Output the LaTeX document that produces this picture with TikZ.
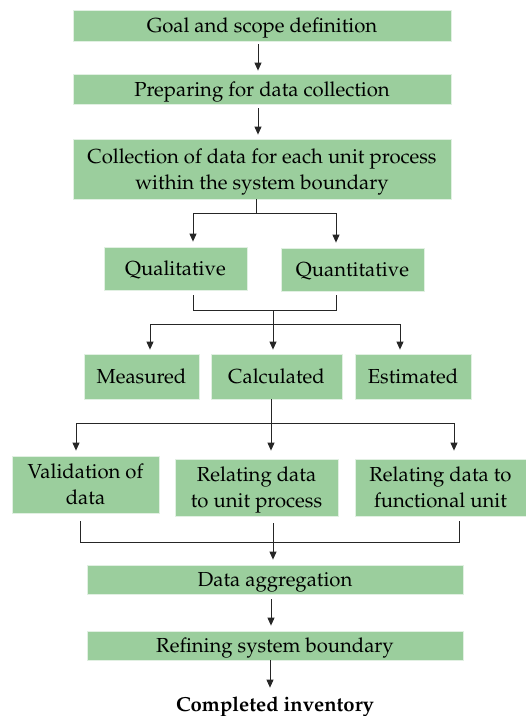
\documentclass[tikz,border=0pt]{standalone}
\usepackage[T1]{fontenc}
\usepackage{mathpazo}
\usetikzlibrary{arrows.meta}
\definecolor{boxgreen}{RGB}{155,206,157}
\tikzset{
  box/.style={fill=boxgreen, draw=white!70!boxgreen, line width=0.8pt, inner sep=0pt,
    align=center, font=\fontsize{20.3}{26}\selectfont},
  oneline/.style={box, text height=14pt, text depth=0pt},
  twoline/.style={box, text depth=0pt},
  conn/.style={line width=0.9pt, draw=black!85},
  arr/.style={conn, -{Triangle[length=8pt,width=7pt]}}
}
\begin{document}
\begin{tikzpicture}[x=1pt,y=-1pt]
\useasboundingbox (0,0) rectangle (526,716);

% process boxes
\node[oneline, minimum width=378pt, minimum height=31pt] (goal) at (262,25.5) {Goal and scope definition};
\node[oneline, minimum width=378pt, minimum height=30pt] (prep) at (262,89) {Preparing for data collection};
\node[twoline, minimum width=378pt, minimum height=60pt] (coll) at (262,169) {Collection of data for each unit process\\within the system boundary};
\node[oneline, minimum width=143pt, minimum height=43pt] (qual) at (175.5,268.5) {Qualitative};
\node[oneline, minimum width=143pt, minimum height=43pt] (quant) at (352.5,269.5) {Quantitative};
\node[oneline, minimum width=115pt, minimum height=45pt] (meas) at (141.5,376.5) {Measured};
\node[oneline, minimum width=131pt, minimum height=45pt] (calc) at (276.5,376.5) {Calculated};
\node[oneline, minimum width=116pt, minimum height=45pt] (est) at (413,376.5) {Estimated};
\node[twoline, minimum width=147pt, minimum height=57pt] (valid) at (85.5,484.5) {Validation of\\data};
\node[twoline, minimum width=163pt, minimum height=57pt] (relunit) at (256.5,487.5) {Relating data\\to unit process};
\node[twoline, minimum width=171pt, minimum height=57pt] (relfunc) at (440.5,487.5) {Relating data to\\functional unit};
\node[oneline, minimum width=376pt, minimum height=29pt] (agg) at (275,579.5) {Data aggregation};
\node[oneline, minimum width=376pt, minimum height=29pt] (ref) at (275,645.5) {Refining system boundary};
\node[font=\fontsize{20.3}{24}\selectfont\bfseries, inner sep=0pt, anchor=base] (comp) at (275,711.5) {Completed inventory};

% upper spine
\draw[arr] ([xshift=-4pt,yshift=-3pt]goal.south) -- ([xshift=-4pt,yshift=3pt]prep.north);
\draw[arr] ([xshift=-4pt,yshift=-4pt]prep.south) -- ([xshift=-4pt,yshift=4pt]coll.north);

% split into qualitative / quantitative
\coordinate (sp1) at (256,213);
\draw[conn] (coll.south -| sp1) -- (sp1);
\draw[arr] (sp1) -| ([xshift=17.5pt,yshift=5pt]qual.north);
\draw[arr] (sp1) -| ([xshift=-16.5pt,yshift=5pt]quant.north);

% merge and split into measured / calculated / estimated
\coordinate (mg1) at (273,310);
\coordinate (sp2) at (273,324);
\draw[conn] ([xshift=17.5pt,yshift=-5pt]qual.south) |- (mg1);
\draw[conn] ([xshift=-16.5pt,yshift=-4pt]quant.south) |- (mg1);
\draw[conn] (mg1) -- (sp2);
\draw[arr] (sp2) -| ([xshift=8.5pt,yshift=4pt]meas.north);
\draw[arr] (sp2) -- ([yshift=4pt]calc.north -| sp2);
\draw[arr] (sp2) -| ([xshift=-13pt,yshift=4pt]est.north);

% split into validation / relating steps
\coordinate (sp3) at (271,423);
\draw[conn] (calc.south -| sp3) -- (sp3);
\draw[arr] (sp3) -| ([xshift=-9.5pt,yshift=5pt]valid.north);
\draw[arr] (sp3) -- ([yshift=8pt]relunit.north -| sp3);
\draw[arr] (sp3) -| ([xshift=13.5pt,yshift=8pt]relfunc.north);

% merge into data aggregation
\coordinate (mg3) at (273,542);
\draw[conn] ([xshift=-5.5pt,yshift=-8pt]valid.south) |- (mg3);
\draw[conn] ([xshift=18.5pt,yshift=-5pt]relfunc.south) |- (mg3);
\draw[arr] ([yshift=-7pt]relunit.south -| mg3) -- ([yshift=5pt]agg.north -| mg3);

% lower spine
\draw[arr] ([xshift=-4pt,yshift=-5pt]agg.south) -- ([xshift=-4pt,yshift=5pt]ref.north);
\draw[arr] ([xshift=-5pt]ref.south) -- ([xshift=-5pt,yshift=9pt]comp.north);
\end{tikzpicture}
\end{document}
